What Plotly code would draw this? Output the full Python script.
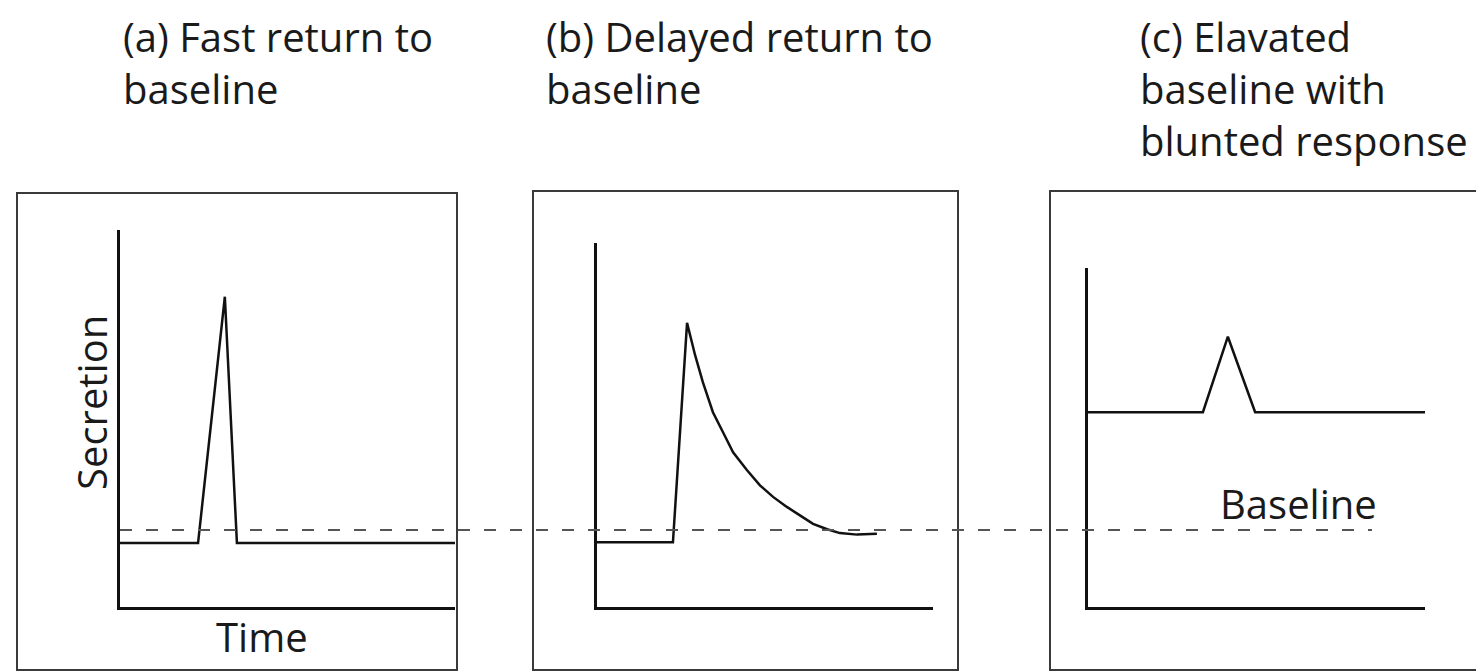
import plotly.graph_objects as go

# ---- data (time in arbitrary units 0-10, secretion in units where baseline = 1) ----
baseline_level = 1.0

a_time = [0, 2.33, 3.13, 3.49, 10]
a_secretion = [0.83, 0.83, 4.03, 0.83, 0.83]

b_time = [0, 2.26, 2.68, 2.92, 3.15, 3.45, 3.75, 4.05, 4.46, 4.85, 5.24, 5.65,
          6.04, 6.43, 6.85, 7.23, 7.74, 8.21, 8.33]
b_secretion = [0.84, 0.84, 3.69, 3.27, 2.92, 2.53, 2.27, 2.01, 1.78, 1.58, 1.43, 1.30,
               1.19, 1.08, 1.01, 0.96, 0.94, 0.95, 0.95]

c_time = [0, 3.41, 4.15, 4.96, 10]
c_secretion = [2.53, 2.53, 3.51, 2.53, 2.53]

titles = ["(a) Fast return to<br>baseline",
          "(b) Delayed return to<br>baseline",
          "(c) Elavated<br>baseline with<br>blunted response"]

# ---- layout helpers (page pixel -> paper); page body has an 8px margin ----
OFF = 8
W, H = 1476, 664
px = lambda x: (x - OFF) / W
py = lambda y: 1 - (y - OFF) / H
PX_PER_UNIT = 77.0
AXIS_BOTTOM = 607

panels = [
    dict(x0=120, x1=455, ytop=230, box=(17, 193, 457, 670)),
    dict(x0=597, x1=933, ytop=243, box=(533, 191, 958, 670)),
    dict(x0=1088, x1=1425, ytop=268, box=(1050, 191, 1477, 670)),
]

fig = go.Figure()
line_style = dict(color="#111111", width=2.5)

fig.add_trace(go.Scatter(x=a_time, y=a_secretion, mode="lines", line=line_style,
                         xaxis="x", yaxis="y"))
fig.add_trace(go.Scatter(x=b_time, y=b_secretion, mode="lines", line=line_style,
                         xaxis="x2", yaxis="y2"))
fig.add_trace(go.Scatter(x=c_time, y=c_secretion, mode="lines", line=line_style,
                         xaxis="x3", yaxis="y3"))

axis_common = dict(showline=True, linecolor="#111111", linewidth=3, showgrid=False,
                   zeroline=False, showticklabels=False, ticks="", fixedrange=True)

layout = dict(width=W, height=H, margin=dict(l=0, r=0, t=0, b=0),
              paper_bgcolor="white", plot_bgcolor="white", showlegend=False)

for i, p in enumerate(panels):
    sfx = "" if i == 0 else str(i + 1)
    layout["xaxis" + sfx] = dict(axis_common, domain=[px(p["x0"]), px(p["x1"])],
                                 range=[0, 10], anchor="y" + sfx)
    layout["yaxis" + sfx] = dict(axis_common, domain=[py(AXIS_BOTTOM), py(p["ytop"])],
                                 range=[0, (AXIS_BOTTOM - p["ytop"]) / PX_PER_UNIT],
                                 anchor="x" + sfx)
fig.update_layout(**layout)

shapes = []
for p in panels:
    bx0, by0, bx1, by1 = p["box"]
    shapes.append(dict(type="rect", xref="paper", yref="paper",
                       x0=px(bx0), x1=px(bx1), y0=py(by1), y1=py(by0),
                       line=dict(color="#3a3a3a", width=2), layer="below"))
# dashed baseline across all panels
shapes.append(dict(type="line", xref="paper", yref="y",
                   x0=px(120), x1=px(1372), y0=baseline_level, y1=baseline_level,
                   line=dict(color="#555555", width=2, dash="12px,14px")))
fig.update_layout(shapes=shapes)

font = dict(family="Open Sans", size=40, color="#1a1a1a")
annotations = []
title_x = [122, 545, 1139]
for t, x in zip(titles, title_x):
    annotations.append(dict(text=t, xref="paper", yref="paper", x=px(x), y=1.0,
                            xanchor="left", yanchor="top", align="left", borderpad=0,
                            showarrow=False, font=font))
annotations.append(dict(text="Secretion", xref="paper", yref="paper", x=px(91), y=py(403),
                        xanchor="center", yanchor="middle", textangle=-90,
                        showarrow=False, font=font))
annotations.append(dict(text="Time", xref="paper", yref="paper", x=px(262), y=py(636),
                        xanchor="center", yanchor="middle", showarrow=False, font=font))
annotations.append(dict(text="Baseline", xref="paper", yref="paper", x=px(1298), y=py(503),
                        xanchor="center", yanchor="middle", showarrow=False, font=font))
fig.update_layout(annotations=annotations)

fig.write_html("out.html")
